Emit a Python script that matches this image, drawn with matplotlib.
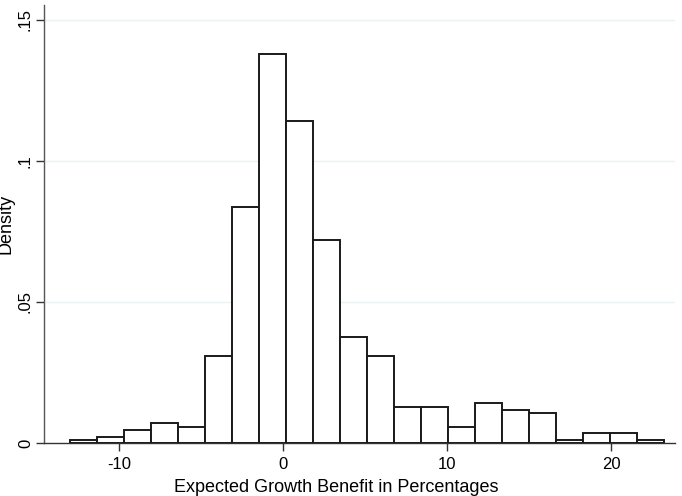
import matplotlib
matplotlib.use("Agg")
import matplotlib.pyplot as plt
import numpy as np

plt.rcParams['font.family'] = ['Liberation Sans', 'DejaVu Sans']

# Histogram data (density per bin)
bin_start = -13.0
bin_width = 1.646
densities = [0.0012, 0.0022, 0.0046, 0.0070, 0.0058, 0.0308, 0.0837, 0.1380,
             0.1143, 0.0720, 0.0376, 0.0308, 0.0129, 0.0129, 0.0058, 0.0141,
             0.0118, 0.0105, 0.0011, 0.0034, 0.0034, 0.0011]
x_ticks = [-10, 0, 10, 20]
x_ticklabels = ["-10", "0", "10", "20"]
y_ticks = [0, 0.05, 0.1, 0.15]
y_ticklabels = ["0", ".05", ".1", ".15"]

edges = bin_start + bin_width * np.arange(len(densities) + 1)

fig = plt.figure(figsize=(6.82, 4.96), dpi=100)
ax = fig.add_axes([44/682, 1 - 443/496, (675-44)/682, (443-5)/496])

ax.bar(edges[:-1], densities, width=bin_width, align='edge',
       facecolor='white', edgecolor='#1a1a1a', linewidth=1.4, zorder=3)

ax.set_xlim(-14.6, 23.88)
ax.set_ylim(0, 0.1553)

ax.set_yticks(y_ticks)
ax.set_yticklabels(y_ticklabels, rotation=90, va='center', fontsize=12)
ax.set_xticks(x_ticks)
ax.set_xticklabels(x_ticklabels, fontsize=12)

for y in y_ticks[1:]:
    ax.axhline(y, color='#eaf2f3', linewidth=1.0, zorder=1)

for s in ['top', 'right']:
    ax.spines[s].set_visible(False)
ax.spines['left'].set_color('#555555')
ax.spines['left'].set_linewidth(1.0)
ax.spines['bottom'].set_color('#333333')
ax.spines['bottom'].set_linewidth(1.0)
ax.tick_params(axis='both', direction='out', length=6, width=1.0, color='#333333')
ax.tick_params(axis='y', pad=2)
ax.tick_params(axis='x', pad=4)

ax.set_xlabel("Expected Growth Benefit in Percentages", fontsize=13)
ax.set_ylabel("Density", fontsize=13)
ax.yaxis.set_label_coords(-0.046, 0.5)
ax.xaxis.set_label_coords(0.4625, -0.082)

fig.savefig("out.png", dpi=100)
